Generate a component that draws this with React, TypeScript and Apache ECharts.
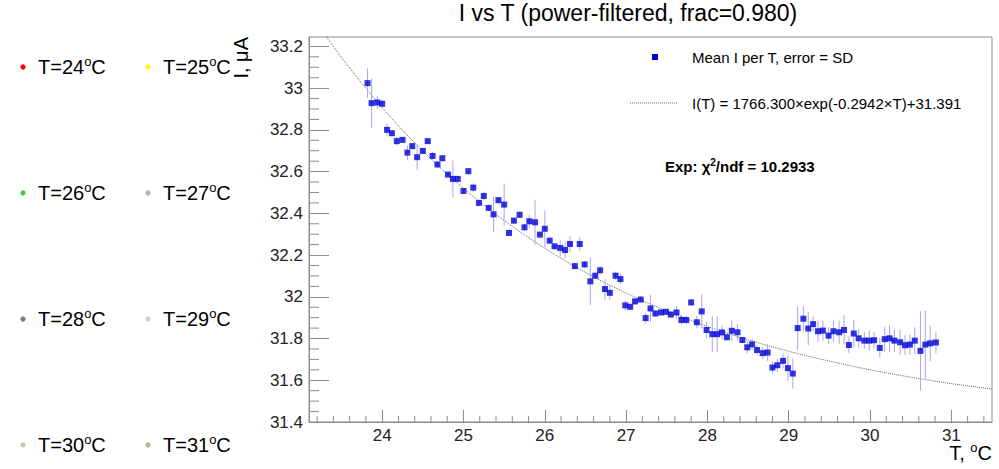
import React, { useEffect, useRef } from 'react';
import * as echarts from 'echarts';

// ---- data ----
const T_VALUES = [
  23.82, 23.87, 23.94, 24.0, 24.06, 24.12, 24.18, 24.25, 24.31, 24.37,
  24.43, 24.5, 24.56, 24.62, 24.68, 24.74, 24.81, 24.87, 24.93, 25.0,
  25.06, 25.12, 25.19, 25.25, 25.31, 25.37, 25.43, 25.5, 25.56, 25.62,
  25.69, 25.75, 25.81, 25.88, 25.94, 26.0, 26.06, 26.12, 26.19, 26.25,
  26.31, 26.37, 26.43, 26.49, 26.56, 26.62, 26.68, 26.74, 26.8, 26.87,
  26.93, 26.99, 27.05, 27.11, 27.18, 27.24, 27.3, 27.36, 27.43, 27.49,
  27.55, 27.62, 27.68, 27.74, 27.8, 27.87, 27.93, 27.99, 28.06, 28.12,
  28.18, 28.24, 28.3, 28.37, 28.43, 28.49, 28.55, 28.61, 28.68, 28.74,
  28.8, 28.86, 28.93, 28.99, 29.05, 29.11, 29.18, 29.24, 29.3, 29.36,
  29.42, 29.49, 29.55, 29.62, 29.68, 29.74, 29.8, 29.86, 29.93, 29.99,
  30.05, 30.12, 30.18, 30.24, 30.3, 30.37, 30.43, 30.49, 30.55, 30.62,
  30.68, 30.74, 30.81,
];
const I_MEAN = [
  33.024, 32.928, 32.931, 32.925, 32.8, 32.784, 32.746, 32.752, 32.691, 32.722,
  32.669, 32.699, 32.746, 32.675, 32.634, 32.664, 32.586, 32.565, 32.565, 32.507,
  32.602, 32.523, 32.45, 32.483, 32.426, 32.395, 32.463, 32.442, 32.306, 32.365,
  32.393, 32.333, 32.362, 32.357, 32.298, 32.326, 32.269, 32.242, 32.234, 32.224,
  32.253, 32.147, 32.253, 32.155, 32.074, 32.101, 32.127, 32.037, 32.019, 32.101,
  32.085, 31.959, 31.952, 31.978, 31.987, 31.898, 31.944, 31.92, 31.925, 31.928,
  31.915, 31.925, 31.889, 31.889, 31.973, 31.878, 31.93, 31.841, 31.821, 31.821,
  31.829, 31.806, 31.837, 31.83, 31.793, 31.758, 31.772, 31.745, 31.73, 31.733,
  31.661, 31.672, 31.693, 31.658, 31.632, 31.85, 31.895, 31.848, 31.869, 31.835,
  31.838, 31.814, 31.835, 31.83, 31.841, 31.769, 31.824, 31.801, 31.79, 31.79,
  31.792, 31.755, 31.797, 31.801, 31.79, 31.782, 31.768, 31.771, 31.79, 31.741,
  31.771, 31.777, 31.781,
];
const I_SD = [
  0.07, 0.118, 0.03, 0.02, 0.03, 0.015, 0.02, 0.01, 0.035, 0.015,
  0.062, 0.015, 0.01, 0.02, 0.015, 0.015, 0.01, 0.088, 0.015, 0.015,
  0.015, 0.02, 0.015, 0.02, 0.015, 0.085, 0.015, 0.1, 0.015, 0.015,
  0.015, 0.015, 0.03, 0.108, 0.015, 0.088, 0.015, 0.015, 0.04, 0.04,
  0.037, 0.015, 0.035, 0.015, 0.114, 0.015, 0.02, 0.05, 0.035, 0.02,
  0.025, 0.025, 0.015, 0.015, 0.015, 0.025, 0.064, 0.015, 0.015, 0.015,
  0.015, 0.03, 0.024, 0.02, 0.015, 0.03, 0.082, 0.04, 0.086, 0.085,
  0.035, 0.015, 0.05, 0.04, 0.015, 0.03, 0.028, 0.024, 0.03, 0.04,
  0.03, 0.032, 0.035, 0.06, 0.072, 0.104, 0.06, 0.08, 0.036, 0.05,
  0.048, 0.04, 0.052, 0.056, 0.07, 0.04, 0.065, 0.044, 0.04, 0.048,
  0.04, 0.046, 0.06, 0.064, 0.054, 0.06, 0.048, 0.048, 0.064, 0.19,
  0.163, 0.085, 0.052,
];
// fit curve
const FIT_T = [23.1, 23.5, 24, 24.5, 25, 25.5, 26, 26.5, 27, 27.5, 28, 28.5, 29, 29.5, 30, 30.5, 31, 31.5];
const FIT_I = [33.366, 33.147, 32.907, 32.699, 32.52, 32.366, 32.233, 32.117, 32.018, 31.932, 31.858, 31.794, 31.739, 31.692, 31.65, 31.615, 31.584, 31.558];

const X_TICK_LABELS = [24, 25, 26, 27, 28, 29, 30, 31];
const Y_TICK_LABELS = [31.4, 31.6, 31.8, 32, 32.2, 32.4, 32.6, 32.8, 33, 33.2];
const LEGEND_TEMPS = ['24', '25', '26', '27', '28', '29', '30', '31'];
const LEGEND_COLORS = ['#ff0000', '#ffff00', '#3fcc3f', '#b8aea6', '#7a7a7a', '#d2d2d2', '#cdc5ae', '#b9b4a2'];

const TITLE = 'I vs T (power-filtered, frac=0.980)';
const SERIES_LABEL = 'Mean I per T, error = SD';
const FIT_LABEL = 'I(T) = 1766.300×exp(-0.2942×T)+31.391';
const CHI2_VALUE = '10.2933';

const X_MIN = 23.1;
const X_MAX = 31.5;
const Y_MIN = 31.4;
const Y_MAX = 33.245;

const FONT = 'Liberation Sans, Arial, Helvetica, sans-serif';

function minorTicks(from: number, to: number, step: number, majorStep: number): number[] {
  const out: number[] = [];
  const n = Math.round((to - from) / step);
  for (let i = 0; i <= n; i++) {
    const v = Math.round((from + i * step) * 1000) / 1000;
    const r = v / majorStep;
    if (Math.abs(r - Math.round(r)) > 1e-6) out.push(v);
  }
  return out;
}

export default function App() {
  const ref = useRef<HTMLDivElement>(null);
  useEffect(() => {
    if (!ref.current) return;
    const chart = echarts.init(ref.current, null, { renderer: 'svg' });
    const xMinor = minorTicks(23.2, 31.4, 0.2, 1);
    const yMinor = minorTicks(31.45, 33.2, 0.05, 0.2);

    const legendGraphics: any[] = [];
    const colX = [23, 148];
    const rowY = [67, 193, 319, 445];
    LEGEND_TEMPS.forEach((t, i) => {
      const cx = colX[i % 2];
      const cy = rowY[Math.floor(i / 2)];
      legendGraphics.push({
        type: 'circle',
        shape: { cx, cy, r: 2.6 },
        style: { fill: LEGEND_COLORS[i] },
      });
      legendGraphics.push({
        type: 'text',
        x: cx + 15,
        y: cy,
        style: {
          text: `{n|T=${t}}{s|o}{n|C}`,
          textVerticalAlign: 'middle',
          rich: {
            n: { fontSize: 20, fontFamily: FONT, fill: '#000', lineHeight: 24 },
            s: { fontSize: 13, fontFamily: FONT, fill: '#000', lineHeight: 13, verticalAlign: 'top' },
          },
        },
      });
    });

    const option: any = {
      animation: false,
      textStyle: { fontFamily: FONT },
      grid: {
        left: 309,
        top: 37,
        right: 7,
        bottom: 47,
        show: true,
        borderColor: '#8c8c8c',
        borderWidth: 1,
        backgroundColor: 'transparent',
        containLabel: false,
        outerBoundsMode: 'none',
      },
      xAxis: {
        type: 'value',
        min: X_MIN,
        max: X_MAX,
        axisLine: { show: true, lineStyle: { color: '#8c8c8c', width: 1 } },
        axisTick: { show: true, inside: true, length: 12, customValues: X_TICK_LABELS, lineStyle: { color: '#8c8c8c' } },
        axisLabel: { customValues: X_TICK_LABELS, fontSize: 17, color: '#222', margin: 5, fontFamily: FONT },
        splitLine: { show: false },
      },
      yAxis: {
        type: 'value',
        min: Y_MIN,
        max: Y_MAX,
        axisLine: { show: true, lineStyle: { color: '#8c8c8c', width: 1 } },
        axisTick: { show: true, inside: true, length: 20, customValues: Y_TICK_LABELS, lineStyle: { color: '#8c8c8c' } },
        axisLabel: { customValues: Y_TICK_LABELS, fontSize: 17, color: '#222', margin: 6, fontFamily: FONT },
        splitLine: { show: false },
      },
      series: [
        {
          type: 'custom',
          name: 'xminor',
          data: xMinor.map((v) => [v, Y_MIN]),
          clip: false,
          silent: true,
          renderItem: (_p: any, api: any) => {
            const c = api.coord([api.value(0), api.value(1)]);
            return {
              type: 'line',
              shape: { x1: c[0], y1: c[1], x2: c[0], y2: c[1] - 6 },
              style: { stroke: '#8c8c8c', lineWidth: 1 },
            };
          },
        },
        {
          type: 'custom',
          name: 'yminor',
          data: yMinor.map((v) => [X_MIN, v]),
          clip: false,
          silent: true,
          renderItem: (_p: any, api: any) => {
            const c = api.coord([api.value(0), api.value(1)]);
            return {
              type: 'line',
              shape: { x1: c[0], y1: c[1], x2: c[0] + 10, y2: c[1] },
              style: { stroke: '#8c8c8c', lineWidth: 1 },
            };
          },
        },
        {
          type: 'line',
          name: 'fit',
          data: FIT_T.map((t, i) => [t, FIT_I[i]]),
          smooth: 0.4,
          showSymbol: false,
          clip: true,
          lineStyle: { color: '#666', width: 1, type: [1, 1] },
          z: 1,
        },
        {
          type: 'custom',
          name: 'errors',
          data: T_VALUES.map((t, i) => [t, I_MEAN[i], I_SD[i]]),
          encode: { x: 0, y: 1 },
          clip: true,
          renderItem: (_p: any, api: any) => {
            const x = api.value(0);
            const y = api.value(1);
            const e = api.value(2);
            const a = api.coord([x, y - e]);
            const b = api.coord([x, y + e]);
            return {
              type: 'line',
              shape: { x1: a[0], y1: a[1], x2: b[0], y2: b[1] },
              style: { stroke: '#a6a6f2', lineWidth: 1 },
            };
          },
          z: 2,
        },
        {
          type: 'scatter',
          name: SERIES_LABEL,
          data: T_VALUES.map((t, i) => [t, I_MEAN[i]]),
          symbol: 'rect',
          symbolSize: 6,
          itemStyle: { color: '#0000d8' },
          z: 3,
        },
      ],
      graphic: [
        {
          type: 'text',
          x: 628,
          y: 13,
          style: {
            text: TITLE,
            fontSize: 23,
            fontFamily: FONT,
            fill: '#000',
            textAlign: 'center',
            textVerticalAlign: 'middle',
          },
        },
        {
          type: 'text',
          x: 241,
          y: 37,
          rotation: Math.PI / 2,
          style: {
            text: 'I, μA',
            fontSize: 20,
            fontFamily: FONT,
            fill: '#000',
            textAlign: 'right',
            textVerticalAlign: 'middle',
          },
        },
        {
          type: 'text',
          x: 992,
          y: 453,
          style: {
            text: '{n|T, }{s|o}{n|C}',
            textAlign: 'right',
            textVerticalAlign: 'middle',
            rich: {
              n: { fontSize: 20, fontFamily: FONT, fill: '#000', lineHeight: 24 },
              s: { fontSize: 13, fontFamily: FONT, fill: '#000', lineHeight: 13, verticalAlign: 'top' },
            },
          },
        },
        {
          type: 'rect',
          shape: { x: 652, y: 54, width: 6, height: 6 },
          style: { fill: '#0000d8' },
        },
        {
          type: 'text',
          x: 692,
          y: 57,
          style: { text: SERIES_LABEL, fontSize: 15, fontFamily: FONT, fill: '#000', textVerticalAlign: 'middle' },
        },
        {
          type: 'line',
          shape: { x1: 630, y1: 103, x2: 678, y2: 103 },
          style: { stroke: '#666', lineWidth: 1, lineDash: [1, 1] },
        },
        {
          type: 'text',
          x: 692,
          y: 103,
          style: { text: FIT_LABEL, fontSize: 15, fontFamily: FONT, fill: '#000', textVerticalAlign: 'middle' },
        },
        {
          type: 'text',
          x: 665,
          y: 166,
          style: {
            text: `{b|Exp: χ}{s|2}{b|/ndf = ${CHI2_VALUE}}`,
            textVerticalAlign: 'middle',
            rich: {
              b: { fontSize: 15, fontWeight: 'bold', fontFamily: FONT, fill: '#000', lineHeight: 18 },
              s: { fontSize: 10, fontWeight: 'bold', fontFamily: FONT, fill: '#000', lineHeight: 10, verticalAlign: 'top' },
            },
          },
        },
        ...legendGraphics,
      ],
    };
    chart.setOption(option);
    return () => chart.dispose();
  }, []);

  return (
    <div
      ref={ref}
      style={{ position: 'absolute', left: 0, top: 0, width: 999, height: 469, background: '#fff' }}
    />
  );
}
